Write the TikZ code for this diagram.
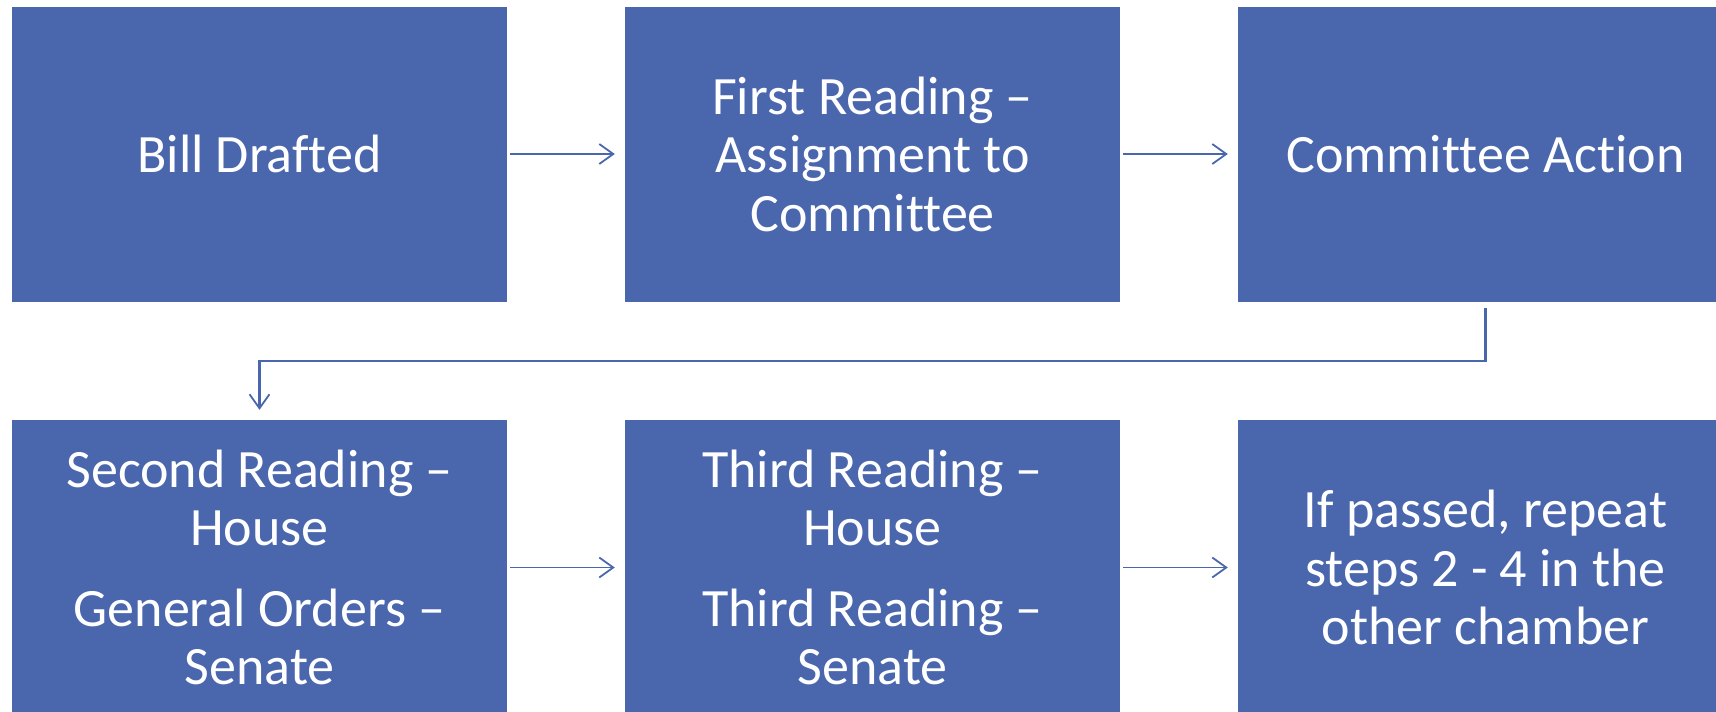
\documentclass[tikz,border=0pt]{standalone}
\usepackage{fontspec}
\setmainfont{Carlito}[Ligatures=NoCommon]
\usetikzlibrary{arrows.meta}
\definecolor{boxblue}{HTML}{4A67AE}
\tikzset{
  stepbox/.style={rectangle, fill=boxblue, text=white, align=center, inner sep=0pt,
    minimum width=495pt, minimum height=295pt,
    font=\fontsize{54}{58.5}\selectfont},
  flow/.style={draw=boxblue, line width=1.8pt, -{Straight Barb[length=14pt,width=20pt,line width=1.8pt]},
    shorten <=3pt, shorten >=10pt},
  elbow/.style={draw=boxblue, line width=2.4pt, -{Straight Barb[length=14pt,width=20pt,line width=1.8pt]},
    shorten <=6pt, shorten >=10pt}
}
\begin{document}
\begin{tikzpicture}[x=1pt,y=-1pt]
\useasboundingbox (0,0) rectangle (1716,712);
\node[stepbox] (b1) at (259.5,154) {Bill Drafted};
\node[stepbox] (b2) at (872.5,154) {First Reading –\\Assignment to\\Committee};
\node[stepbox] (b3) at (1485.5,154) {Committee Action};
\node[stepbox] (b4) at (259.5,567.5) {Second Reading –\\House\\[22pt]General Orders –\\Senate};
\node[stepbox] (b5) at (872.5,567.5) {Third Reading –\\House\\[22pt]Third Reading –\\Senate};
\node[stepbox] (b6) at (1485.5,567.5) {If passed, repeat\\steps 2 - 4 in the\\other chamber};
\coordinate (c1) at (1485.5,361);
\coordinate (c2) at (259.5,361);
\draw[flow] (b1) -- (b2);
\draw[flow] (b2) -- (b3);
\draw[flow] (b4) -- (b5);
\draw[flow] (b5) -- (b6);
\draw[elbow] (b3.south) -- (c1) -- (c2) -- (b4.north);
\end{tikzpicture}
\end{document}
